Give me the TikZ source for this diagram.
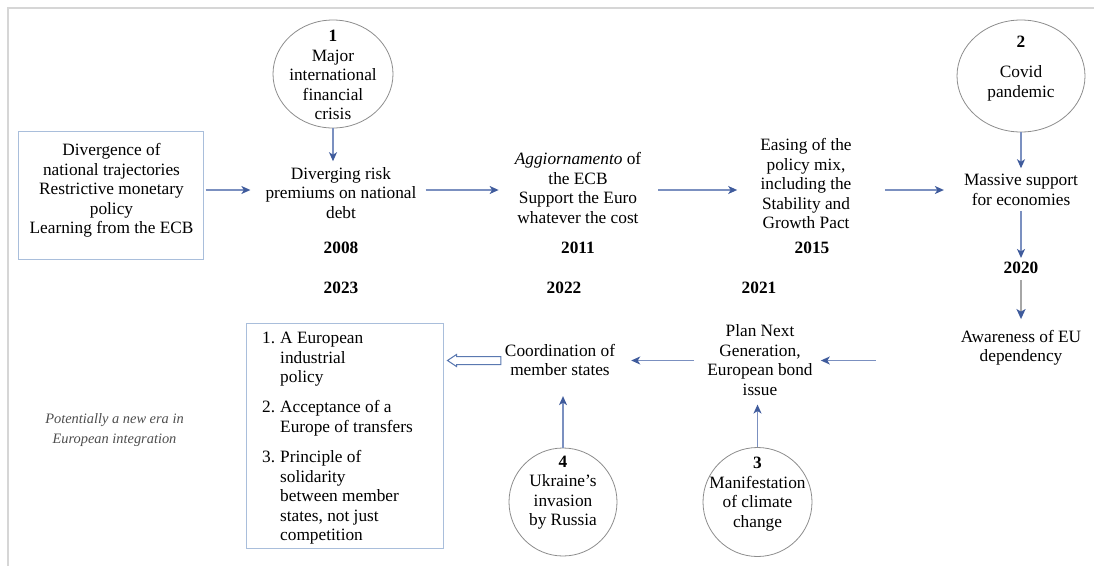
\documentclass[tikz,border=0pt]{standalone}
\usepackage{fontspec}
\setmainfont{Liberation Serif}
\usetikzlibrary{arrows.meta,shapes.geometric,calc}
\definecolor{shaft}{HTML}{7B90C0}
\definecolor{head}{HTML}{3F5B9C}
\definecolor{boxblue}{HTML}{A9BEDB}
\definecolor{ringgray}{HTML}{8C8C8C}
\definecolor{framegray}{HTML}{D6D6D6}
\definecolor{notegray}{HTML}{4D4D4D}
\definecolor{thickgray}{HTML}{A6A6A6}
\definecolor{hollowblue}{HTML}{5A78B0}
\begin{document}
\begin{tikzpicture}[x=1pt,y=-1pt,
 txt/.style={font=\fontsize{17.3}{19.5}\selectfont, align=center, inner sep=2pt},
 yr/.style={txt, font=\fontsize{17.3}{19.5}\selectfont\bfseries},
 ring/.style={ellipse, draw=ringgray, line width=0.8pt, inner sep=0pt},
 frm/.style={draw=boxblue, line width=1pt, inner sep=0pt},
 arr/.style={draw=shaft, line width=1.3pt, -{Stealth[length=9pt,width=8pt,inset=2.5pt,color=head]}},
 grayarr/.style={draw=thickgray, line width=2.6pt, -{Stealth[length=10pt,width=9pt,inset=2.5pt,color=head]}},
 notestyle/.style={font=\fontsize{14.4}{20}\selectfont\itshape, text=notegray, align=center, inner sep=2pt},
]
\path[use as bounding box] (0,0) rectangle (1094,565);
\draw[framegray, line width=2pt] (8,566) -- (8,8) -- (1095,8);

\coordinate (r1) at (0,190);
\coordinate (r2) at (0,360.5);

\node[txt] (ltext) at (111.5,190.5) {Divergence of\\national trajectories\\Restrictive monetary\\policy\\Learning from the ECB};
\node[frm, minimum width=185pt, minimum height=128pt] (lbox) at (110.5,195) {};

\node[ring, minimum width=120pt, minimum height=108pt] (c1) at (333,74) {};
\node[txt] (c1t) at (333,75) {\textbf{1}\\Major\\international\\financial\\crisis};
\node[txt] (divg) at (341,193) {Diverging risk\\premiums on national\\debt};
\node[yr] (y2008) at (341,248) {2008};

\node[txt] (aggi) at (578,188) {\textit{Aggiornamento} of\\the ECB\\Support the Euro\\whatever the cost};
\node[yr] (y2011) at (578,248) {2011};

\node[txt] (ease) at (806,183.5) {Easing of the\\policy mix,\\including the\\Stability and\\Growth Pact};
\node[yr] (y2015) at (812,248) {2015};

\node[ring, minimum width=128pt, minimum height=112pt] (c2) at (1021,76) {};
\node[txt] (c2t) at (1021,68.5) {\textbf{2}\\[11pt]Covid\\pandemic};
\node[txt] (mass) at (1021,190) {Massive support\\for economies};
\node[yr] (y2020) at (1021,268) {2020};
\node[txt] (aware) at (1021,348) {Awareness of EU\\dependency};

\node[yr] (y2021) at (759,288) {2021};
\node[yr] (y2022) at (564,288) {2022};
\node[yr] (y2023) at (341,288) {2023};

\node[txt] (plan) at (760,360) {Plan Next\\Generation,\\European bond\\issue};
\node[txt] (coord) at (560,360) {Coordination of\\member states};

\node[frm, minimum width=197pt, minimum height=225pt] (rbox) at (344.5,435.5) {};
\node[txt, align=left, anchor=west] (list) at (260,438.5) {\makebox[18pt][l]{1.}A European\\\hspace*{18pt}industrial\\\hspace*{18pt}policy\\[10.5pt]\makebox[18pt][l]{2.}Acceptance of a\\\hspace*{18pt}Europe of transfers\\[11pt]\makebox[18pt][l]{3.}Principle of\\\hspace*{18pt}solidarity\\\hspace*{18pt}between member\\\hspace*{18pt}states, not just\\\hspace*{18pt}competition};

\node[notestyle] (note) at (114.5,430) {Potentially a new era in\\European integration};

\node[ring, minimum width=108pt, minimum height=108pt] (c4) at (563,502) {};
\node[txt] (c4t) at (563,492.5) {\textbf{4}\\Ukraine's\\invasion\\by Russia};
\node[ring, minimum width=109pt, minimum height=109pt] (c3) at (757.5,502) {};
\node[txt] (c3t) at (757.5,494) {\textbf{3}\\Manifestation\\of climate\\change};

\draw[arr, shorten <=2pt, shorten >=13pt] (lbox.east |- r1) -- (divg.west |- r1);
\draw[arr, shorten >=4pt] (c1.south) -- (c1.south |- divg.north);
\draw[arr, shorten <=7pt, shorten >=14pt] (divg.east |- r1) -- (aggi.west |- r1);
\draw[arr, shorten <=15pt, shorten >=21pt] (aggi.east |- r1) -- (ease.west |- r1);
\draw[arr, shorten <=31pt, shorten >=18pt] (ease.east |- r1) -- (mass.west |- r1);
\draw[arr, shorten >=4pt] (c2.south) -- (mass.north);
\draw[arr, shorten <=3pt, shorten >=2pt] (mass.south) -- (y2020.north);
\draw[grayarr, shorten <=4pt, shorten >=9pt] (y2020.south) -- (aware.north);
\draw[arr, shorten <=83pt, shorten >=6pt] (aware.west |- r2) -- (plan.east |- r2);
\draw[arr, shorten <=11pt, shorten >=14pt] (plan.west |- r2) -- (coord.east |- r2);
\draw[arr, shorten >=18pt] (c4.north) -- (c4.north |- coord.south);
\draw[arr, shorten >=7pt] (c3.north) -- (c3.north |- plan.south);

\coordinate (ht) at ($(rbox.east |- r2)+(4,0)$);
\coordinate (hs) at ($(coord.west |- r2)+(-2,0)$);
\draw[hollowblue, line width=1pt, fill=white] (ht) -- ++(9,-6) -- ++(0,2) -- ($(hs)+(0,-4)$) -- ($(hs)+(0,4)$) -- ($(ht)+(9,4)$) -- ++(0,2) -- cycle;
\end{tikzpicture}
\end{document}
